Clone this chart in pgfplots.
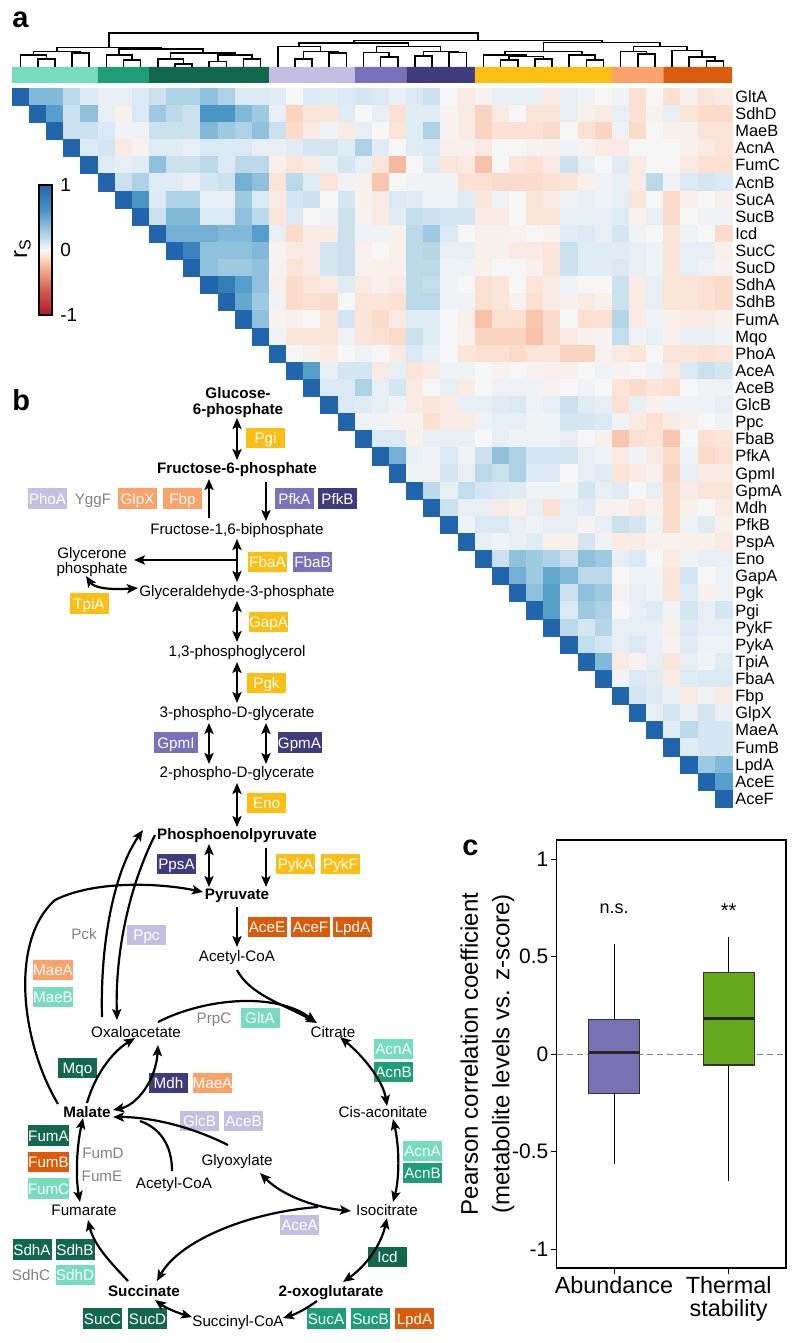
\documentclass[border=0pt]{standalone}
\usepackage{fontspec}
\setmainfont{Liberation Sans}
\usepackage{pgfplots}
\pgfplotsset{compat=1.18}
\usepgfplotslibrary{statistics}
\usetikzlibrary{arrows.meta}

\definecolor{lteal}{RGB}{118,220,190}
\definecolor{mteal}{RGB}{29,158,118}
\definecolor{dgreen}{RGB}{17,104,76}
\definecolor{lav}{RGB}{196,191,226}
\definecolor{mpur}{RGB}{121,113,185}
\definecolor{dpur}{RGB}{64,59,125}
\definecolor{yel}{RGB}{253,190,20}
\definecolor{lor}{RGB}{250,162,106}
\definecolor{dor}{RGB}{219,91,11}
\definecolor{bpur}{RGB}{120,113,180}
\definecolor{bgrn}{RGB}{101,168,30}
\definecolor{gtxt}{RGB}{128,128,128}

\pgfplotsset{colormap={rdbu}{rgb255(0pt)=(178,24,43) rgb255(40pt)=(214,96,77) rgb255(70pt)=(245,172,140) rgb255(90pt)=(252,225,210) rgb255(100pt)=(246,246,246) rgb255(110pt)=(218,233,243) rgb255(130pt)=(158,202,225) rgb255(160pt)=(72,150,197) rgb255(200pt)=(33,102,172)}}
\pgfplotsset{hm/.style={only marks, scatter, mark=square*, mark size=4.29pt, point meta=explicit, mark options={line width=0.15pt}, scatter/use mapped color={draw=mapped color, fill=mapped color}}}

\tikzset{
 ar/.style={line width=1.1pt, -{Stealth[length=5.5pt,width=4.6pt,inset=1.2pt]}},
 dar/.style={line width=1.1pt, {Stealth[length=5.5pt,width=4.6pt,inset=1.2pt]}-{Stealth[length=5.5pt,width=4.6pt,inset=1.2pt]}},
 ln/.style={line width=1.1pt}}

\newcommand\hrow[2]{\addplot[hm] table[row sep=\\, header=false, x expr={20.571+17.143*(\coordindex+#1)}, y expr={96.56+17.12*#1}, meta index=0] {#2};}
\newcommand\dl[5]{\addplot[black, line width=0.8pt] coordinates {(#1,#2) (#1,#5) (#3,#5) (#3,#4)};}
\newcommand\strip[3]{\addplot[fill=#3, draw=none] coordinates {(#1,67) (#2,67) (#2,83) (#1,83) (#1,67)};}
\newcommand\hl[2]{\node[anchor=west, font=\fontsize{8.2}{9}\selectfont, inner sep=0pt, text height=5.9pt, text depth=0pt] at (axis cs:735,{96.56+17.12*#1}) {#2};}
\newcommand\enz[5][19.5pt]{\node[fill=#4, text=white, minimum width=#1, minimum height=10.25pt, inner sep=0pt, text height=5.5pt, text depth=0pt, font=\fontsize{7.6}{9}\selectfont] at (axis cs:#2,#3) {#5};}
\newcommand\met[3]{\node[font=\fontsize{7.6}{9}\selectfont, inner sep=0pt, text height=5.5pt, text depth=0pt] at (axis cs:#1,#2) {#3};}
\newcommand\metb[3]{\node[font=\fontsize{7.6}{9}\selectfont\bfseries, inner sep=0pt, text height=5.5pt, text depth=0pt] at (axis cs:#1,#2) {#3};}
\newcommand\gry[3]{\node[font=\fontsize{7.6}{9}\selectfont, text=gtxt, inner sep=0pt, text height=5.5pt, text depth=0pt] at (axis cs:#1,#2) {#3};}

\begin{document}
\begin{tikzpicture}
\useasboundingbox (0,0) rectangle (400pt,671.5pt);
\begin{axis}[at={(0pt,0pt)}, anchor=south west, scale only axis, width=400pt, height=671.5pt,
  xmin=0, xmax=800, ymin=0, ymax=1343, y dir=reverse, hide axis, clip=false,
  colormap name=rdbu, point meta min=-1, point meta max=1]
% colour strip
\strip{12}{97.7}{lteal}
\strip{97.7}{149.1}{mteal}
\strip{149.1}{269.1}{dgreen}
\strip{269.1}{354.9}{lav}
\strip{354.9}{406.3}{mpur}
\strip{406.3}{474.9}{dpur}
\strip{474.9}{612.0}{yel}
\strip{612.0}{663.4}{lor}
\strip{663.4}{732.0}{dor}
% dendrogram
\dl{37.7}{66.7}{54.9}{66.7}{59.3}
\dl{20.6}{66.7}{46.3}{59.3}{55}
\dl{72.0}{66.7}{89.1}{66.7}{53.3}
\dl{33.4}{55}{80.6}{53.3}{51.7}
\dl{123.4}{66.7}{140.6}{66.7}{60}
\dl{106.3}{66.7}{132}{60}{55}
\dl{174.9}{66.7}{192.0}{66.7}{64.3}
\dl{157.7}{66.7}{183.4}{64.3}{59.3}
\dl{209.1}{66.7}{226.3}{66.7}{61.7}
\dl{243.4}{66.7}{260.6}{66.7}{59.3}
\dl{217.7}{61.7}{252}{59.3}{55}
\dl{170.6}{59.3}{234.9}{55}{53.3}
\dl{119.2}{55}{202.7}{53.3}{49.3}
\dl{57.0}{51.7}{161}{49.3}{47.7}
\dl{294.9}{66.7}{312.0}{66.7}{59.3}
\dl{329.1}{66.7}{346.3}{66.7}{53.3}
\dl{303.4}{59.3}{337.7}{53.3}{51.7}
\dl{277.7}{66.7}{320.6}{51.7}{46.7}
\dl{380.6}{66.7}{397.7}{66.7}{57.3}
\dl{363.4}{66.7}{389.1}{57.3}{52.7}
\dl{414.9}{66.7}{432.0}{66.7}{56}
\dl{449.1}{66.7}{466.3}{66.7}{52.7}
\dl{423.4}{56}{457.7}{52.7}{51.7}
\dl{376.3}{52.7}{440.6}{51.7}{46.7}
\dl{299.1}{46.7}{408.4}{46.7}{43.3}
\dl{500.6}{66.7}{517.7}{66.7}{60}
\dl{534.9}{66.7}{552.0}{66.7}{59.3}
\dl{509.1}{60}{543.4}{59.3}{56.7}
\dl{483.4}{66.7}{526.3}{56.7}{55}
\dl{586.3}{66.7}{603.4}{66.7}{60}
\dl{569.1}{66.7}{594.9}{60}{55}
\dl{504.9}{55}{582}{55}{51.7}
\dl{637.7}{66.7}{654.9}{66.7}{54}
\dl{620.6}{66.7}{646.3}{54}{51.7}
\dl{706.3}{66.7}{723.4}{66.7}{61}
\dl{689.1}{66.7}{714.9}{61}{57.3}
\dl{672.0}{66.7}{702}{57.3}{50.7}
\dl{633.4}{51.7}{687}{50.7}{46.7}
\dl{543.4}{51.7}{660.2}{46.7}{42.7}
\dl{353.8}{43.3}{601.8}{42.7}{40.7}
\dl{109}{47.7}{477.8}{40.7}{33.3}
% heatmap rows (upper triangle, columns r..41)
\hrow{0}{1\\0.4\\0.4\\0.2\\0.1\\0.05\\0.05\\0.1\\0.15\\0.25\\0.25\\0.35\\0.25\\0.1\\0.1\\0.08\\0\\0.1\\0.08\\0.1\\0.12\\0.1\\0.05\\0.1\\0.15\\0\\-0.05\\-0.02\\0.05\\0.05\\0.05\\-0.05\\0.05\\0.02\\0\\0.02\\-0.1\\0\\-0.1\\-0.03\\-0.08\\-0.05\\}
\hrow{1}{1\\0.55\\0.15\\0.35\\0.05\\-0.03\\0.1\\0.3\\0.2\\0.15\\0.6\\0.6\\0.4\\0.3\\0.05\\-0.15\\-0.08\\-0.08\\0.08\\0\\0.05\\-0.1\\0.08\\0.08\\-0.02\\-0.05\\-0.15\\-0.05\\0\\-0.08\\-0.08\\0.05\\-0.03\\-0.05\\0.05\\-0.1\\-0.02\\0.05\\-0.08\\-0.12\\-0.12\\}
\hrow{2}{1\\0.15\\0.15\\0.1\\0.02\\0.03\\0.15\\0.15\\0.15\\0.4\\0.3\\0.25\\0.35\\0.15\\-0.12\\-0.05\\0.03\\-0.05\\0.05\\0\\-0.08\\0.08\\0.25\\-0.02\\-0.05\\-0.15\\-0.1\\-0.1\\-0.1\\-0.12\\0\\-0.1\\-0.15\\0.03\\-0.12\\0\\-0.03\\-0.03\\-0.08\\-0.08\\}
\hrow{3}{1\\0.1\\0.12\\-0.05\\-0.02\\0.08\\0.08\\0.05\\0.1\\0.1\\0.1\\0.05\\0.05\\0.08\\0.12\\0.12\\0.08\\0.25\\0.08\\0\\0.08\\0.1\\-0.03\\-0.03\\-0.05\\0\\0\\-0.02\\-0.03\\0.02\\-0.02\\-0.05\\-0.05\\0\\0\\0\\-0.03\\-0.05\\-0.08\\}
\hrow{4}{1\\0.08\\0.05\\0.08\\0.35\\0.15\\0.15\\0.2\\0.1\\0.2\\0.2\\-0.03\\-0.08\\-0.05\\0.05\\0.12\\0.05\\-0.08\\-0.25\\0\\0.08\\-0.08\\-0.05\\-0.22\\0\\-0.08\\-0.1\\-0.05\\0.15\\0.05\\0\\0.08\\-0.05\\0\\0\\-0.05\\-0.1\\-0.1\\}
\hrow{5}{1\\0.15\\0.25\\0.08\\0.08\\0.05\\0.12\\0.15\\0.45\\0.35\\-0.08\\0.2\\0.08\\-0.08\\0.03\\-0.03\\-0.2\\0\\0.02\\0.02\\0.02\\-0.1\\-0.1\\-0.12\\-0.12\\-0.12\\-0.1\\-0.08\\-0.03\\0.02\\0.05\\-0.05\\0.2\\0.03\\0.1\\0.12\\0.1\\}
\hrow{6}{1\\0.6\\0.1\\0.25\\0.25\\0.05\\0.05\\0.3\\0.1\\-0.05\\0.12\\0.15\\0\\0.12\\-0.03\\-0.05\\0.1\\0.08\\0.03\\0.03\\0.08\\-0.08\\0.02\\0\\-0.08\\-0.05\\0.02\\0.05\\0.02\\0.05\\-0.08\\0\\-0.12\\-0.03\\0\\-0.03\\}
\hrow{7}{1\\0.15\\0.4\\0.4\\0.1\\0.1\\0.35\\0.2\\-0.08\\0.1\\0\\0.02\\0.15\\-0.02\\-0.05\\0.08\\0.18\\0.15\\0.12\\0.12\\-0.05\\-0.05\\0\\-0.08\\-0.08\\0.05\\0.05\\0.05\\0.08\\-0.02\\0.05\\-0.12\\0\\0.02\\0.02\\}
\hrow{8}{1\\0.45\\0.45\\0.45\\0.4\\0.4\\0.55\\0.05\\-0.12\\-0.05\\-0.05\\0.15\\0.02\\0.02\\-0.03\\0.2\\0.3\\0.1\\0\\-0.03\\-0.03\\-0.02\\0\\-0.02\\0.08\\0.1\\0.05\\0.12\\0.02\\0\\-0.08\\0.02\\0\\-0.12\\}
\hrow{9}{1\\0.75\\0.35\\0.35\\0.35\\0.4\\-0.02\\-0.05\\-0.05\\0.12\\0.15\\-0.02\\0\\-0.03\\0.2\\0.22\\0.05\\0.05\\-0.03\\-0.03\\-0.05\\-0.05\\-0.08\\0.15\\0.08\\0.08\\0.08\\0.05\\0.03\\-0.08\\0.05\\0.05\\-0.03\\}
\hrow{10}{1\\0.35\\0.3\\0.3\\0.35\\-0.02\\-0.08\\-0.05\\0.12\\0.15\\-0.02\\-0.03\\-0.03\\0.2\\0.2\\0.02\\0.03\\-0.03\\0\\0\\-0.03\\-0.08\\0.15\\0.08\\0.08\\0.1\\0.05\\0.03\\-0.08\\0.05\\0.03\\-0.02\\}
\hrow{11}{1\\0.8\\0.55\\0.35\\-0.03\\-0.12\\-0.08\\-0.05\\0.08\\-0.05\\-0.03\\-0.05\\0.2\\0.18\\0.02\\0\\-0.1\\-0.08\\0\\-0.08\\-0.05\\0.02\\0\\0\\0.15\\-0.05\\0.05\\-0.08\\-0.08\\-0.1\\-0.12\\}
\hrow{12}{1\\0.5\\0.3\\0.02\\-0.12\\-0.1\\-0.12\\0\\-0.08\\-0.08\\-0.1\\0.2\\0.2\\0.02\\0.02\\-0.1\\-0.08\\-0.02\\-0.1\\-0.05\\-0.03\\-0.05\\-0.03\\0.15\\-0.05\\0.05\\-0.08\\-0.08\\-0.1\\-0.12\\}
\hrow{13}{1\\0.35\\-0.02\\-0.03\\0\\-0.08\\0.12\\-0.08\\-0.12\\-0.05\\0.08\\0.08\\0\\-0.03\\-0.22\\-0.1\\-0.1\\-0.2\\-0.12\\0\\-0.1\\-0.1\\0.22\\-0.05\\0.03\\-0.03\\-0.05\\-0.05\\-0.03\\}
\hrow{14}{1\\0.02\\-0.08\\-0.08\\-0.08\\0.03\\-0.08\\-0.1\\-0.12\\0.15\\0.08\\0\\-0.02\\-0.15\\-0.15\\-0.15\\-0.22\\-0.12\\-0.05\\-0.03\\-0.02\\0.18\\0.02\\0.05\\-0.03\\0.05\\0.05\\0.02\\}
\hrow{15}{1\\0\\-0.03\\-0.05\\0\\0.02\\0\\-0.05\\0.1\\0.05\\0\\-0.08\\-0.1\\-0.1\\-0.12\\-0.08\\-0.08\\-0.15\\-0.15\\-0.02\\-0.05\\-0.08\\0\\-0.08\\-0.08\\-0.1\\-0.08\\}
\hrow{16}{1\\0.55\\0.05\\0.12\\0.12\\-0.05\\0.05\\-0.08\\-0.05\\0.02\\0.03\\0\\-0.02\\0\\-0.02\\-0.03\\-0.03\\0\\0.02\\-0.02\\0\\0.02\\-0.05\\0.1\\0.15\\0.12\\}
\hrow{17}{1\\0.1\\0.1\\0.25\\0.05\\0.12\\-0.05\\0\\0.05\\-0.05\\0\\0.03\\0.03\\0.02\\-0.02\\0\\0.02\\0\\-0.08\\-0.12\\-0.08\\-0.1\\0\\0.02\\0.03\\}
\hrow{18}{1\\0.1\\0.08\\0.05\\0.02\\-0.05\\-0.08\\-0.05\\0.05\\0.05\\0.08\\0.1\\0.03\\0.05\\0.15\\0.08\\0.05\\-0.1\\0.05\\-0.03\\0.02\\0.02\\0.03\\0.05\\}
\hrow{19}{1\\0.02\\0.02\\-0.02\\-0.02\\-0.1\\-0.05\\-0.05\\0.03\\0.05\\0.05\\0.02\\0.02\\0.12\\0.12\\0.1\\0.02\\-0.05\\-0.1\\-0.05\\-0.03\\0\\0.02\\}
\hrow{20}{1\\0.1\\0.1\\-0.03\\0.05\\0.05\\0.05\\0\\0.05\\0.03\\0.02\\0.02\\0.05\\0\\-0.03\\-0.2\\-0.1\\-0.08\\-0.2\\0\\-0.1\\-0.08\\}
\hrow{21}{1\\0.45\\0.05\\0.02\\0.1\\0.02\\0.15\\0.35\\0.25\\0.12\\0.12\\0.12\\0.05\\0.02\\-0.05\\0.02\\-0.05\\-0.12\\0.02\\-0.12\\-0.1\\}
\hrow{22}{1\\0.02\\0.03\\0.12\\0.05\\0.2\\0.15\\0.25\\0.1\\0.1\\0\\0.05\\0.08\\-0.08\\-0.05\\-0.03\\-0.15\\0.05\\-0.05\\-0.05\\}
\hrow{23}{1\\0.2\\0.05\\0.18\\0.12\\0.1\\0.08\\0.02\\0.02\\0.02\\0.12\\0.05\\0.08\\0\\0.05\\-0.12\\-0.05\\-0.08\\-0.08\\}
\hrow{24}{1\\0.15\\0.05\\0.05\\-0.05\\-0.03\\0.05\\-0.1\\0.05\\0.08\\-0.02\\-0.02\\-0.05\\-0.02\\-0.12\\-0.03\\0\\-0.05\\}
\hrow{25}{1\\0.02\\0.1\\0.1\\0.05\\0.03\\0.05\\0.05\\-0.02\\0.05\\0.15\\0.12\\0.03\\-0.12\\0.03\\0.08\\-0.03\\}
\hrow{26}{1\\0.05\\0.02\\0.05\\0.08\\-0.03\\-0.03\\0.12\\0.03\\-0.05\\-0.05\\-0.02\\-0.02\\-0.03\\-0.03\\-0.05\\}
\hrow{27}{1\\0.15\\0.35\\0.3\\0.25\\0.15\\0.35\\0.3\\0.05\\0.1\\0\\-0.05\\0.02\\0.05\\0.05\\}
\hrow{28}{1\\0.45\\0.3\\0.5\\0.4\\0.2\\0.2\\0\\0.02\\0.02\\-0.08\\0.12\\0\\0.03\\}
\hrow{29}{1\\0.35\\0.55\\0.15\\0.35\\0.3\\-0.02\\0.05\\0.03\\-0.08\\0.08\\-0.03\\0.03\\}
\hrow{30}{1\\0.55\\0.1\\0.3\\0.25\\0\\0.05\\0.08\\0.02\\0.12\\0.05\\0.12\\}
\hrow{31}{1\\0.2\\0.12\\0.22\\0.05\\0.05\\0.05\\-0.03\\0.1\\0.05\\0.05\\}
\hrow{32}{1\\0.18\\0.12\\0.05\\0.1\\0.05\\-0.02\\0.08\\0.03\\0.03\\}
\hrow{33}{1\\0.4\\-0.05\\-0.02\\0.05\\-0.08\\0.05\\0.02\\0.08\\}
\hrow{34}{1\\0.02\\0.1\\0.08\\-0.05\\0.08\\0.1\\0.1\\}
\hrow{35}{1\\0.12\\0.1\\0.05\\-0.05\\0.03\\-0.05\\}
\hrow{36}{1\\0.05\\0.12\\0.05\\0.12\\0.05\\}
\hrow{37}{1\\0.08\\0.2\\0.12\\0.12\\}
\hrow{38}{1\\0.08\\0.12\\0.12\\}
\hrow{39}{1\\0.3\\0.4\\}
\hrow{40}{1\\0.55\\}
\hrow{41}{1\\}
% row labels
\hl{0}{GltA}\hl{1}{SdhD}\hl{2}{MaeB}\hl{3}{AcnA}\hl{4}{FumC}\hl{5}{AcnB}\hl{6}{SucA}
\hl{7}{SucB}\hl{8}{Icd}\hl{9}{SucC}\hl{10}{SucD}\hl{11}{SdhA}\hl{12}{SdhB}\hl{13}{FumA}
\hl{14}{Mqo}\hl{15}{PhoA}\hl{16}{AceA}\hl{17}{AceB}\hl{18}{GlcB}\hl{19}{Ppc}\hl{20}{FbaB}
\hl{21}{PfkA}\hl{22}{GpmI}\hl{23}{GpmA}\hl{24}{Mdh}\hl{25}{PfkB}\hl{26}{PspA}\hl{27}{Eno}
\hl{28}{GapA}\hl{29}{Pgk}\hl{30}{Pgi}\hl{31}{PykF}\hl{32}{PykA}\hl{33}{TpiA}\hl{34}{FbaA}
\hl{35}{Fbp}\hl{36}{GlpX}\hl{37}{MaeA}\hl{38}{FumB}\hl{39}{LpdA}\hl{40}{AceE}\hl{41}{AceF}
% panel letters and colourbar label
\node[anchor=base west, inner sep=0pt, font=\fontsize{14.5}{15}\selectfont\bfseries] at (axis cs:12,28) {a};
\node[anchor=base west, inner sep=0pt, font=\fontsize{14.5}{15}\selectfont\bfseries] at (axis cs:12,410) {b};
\node[anchor=base west, inner sep=0pt, font=\fontsize{14.5}{15}\selectfont\bfseries] at (axis cs:462,855) {c};
\node[rotate=90, inner sep=0pt, font=\fontsize{12}{13}\selectfont] at (axis cs:22.5,249) {r\textsubscript{S}};
% ---------- panel b ----------
\metb{238}{393}{Glucose-}
\metb{238}{409}{6-phosphate}
\metb{237}{468}{Fructose-6-phosphate}
\met{237}{529}{Fructose-1,6-biphosphate}
\met{92}{553}{Glycerone}
\met{92}{568}{phosphate}
\met{237}{591}{Glyceraldehyde-3-phosphate}
\met{237}{651}{1,3-phosphoglycerol}
\met{237}{712}{3-phospho-D-glycerate}
\met{237}{772}{2-phospho-D-glycerate}
\metb{237}{834}{Phosphoenolpyruvate}
\metb{237}{894}{Pyruvate}
\met{237}{956}{Acetyl-CoA}
\met{136}{1032}{Oxaloacetate}
\met{333}{1032}{Citrate}
\met{383}{1112}{Cis-aconitate}
\metb{87}{1112}{Malate}
\met{237}{1160}{Glyoxylate}
\met{174}{1183}{Acetyl-CoA}
\met{387}{1210}{Isocitrate}
\met{84}{1210}{Fumarate}
\metb{144}{1291}{Succinate}
\metb{331}{1291}{2-oxoglutarate}
\met{238}{1321}{Succinyl-CoA}
\gry{93}{499}{YggF}
\gry{84}{934}{Pck}
\gry{214}{1018}{PrpC}
\gry{103}{1153}{FumD}
\gry{102}{1176}{FumE}
\gry{31}{1275}{SdhC}
% enzymes
\enz{265.5}{438}{yel}{Pgi}
\enz{47.5}{498.5}{lav}{PhoA}
\enz{137.5}{498.5}{lor}{GlpX}
\enz{182.5}{498.5}{lor}{Fbp}
\enz{294.5}{498.5}{mpur}{PfkA}
\enz{337.5}{498.5}{dpur}{PfkB}
\enz{267.5}{562}{yel}{FbaA}
\enz{312.5}{562}{mpur}{FbaB}
\enz{89}{603.5}{yel}{TpiA}
\enz{268.5}{622}{yel}{GapA}
\enz{266.5}{683}{yel}{Pgk}
\enz[22pt]{176}{742.5}{mpur}{GpmI}
\enz[22pt]{299.5}{742.5}{dpur}{GpmA}
\enz{266.5}{803}{yel}{Eno}
\enz{176.5}{864}{dpur}{PpsA}
\enz{295.5}{864}{yel}{PykA}
\enz{340.5}{864}{yel}{PykF}
\enz{267}{927}{dor}{AceE}
\enz{310.5}{927}{dor}{AceF}
\enz{352.5}{927}{dor}{LpdA}
\enz{146.5}{935}{lav}{Ppc}
\enz{53}{970}{lor}{MaeA}
\enz{53}{997}{lteal}{MaeB}
\enz{260}{1018}{lteal}{GltA}
\enz{393.5}{1049}{lteal}{AcnA}
\enz{393.5}{1072}{mteal}{AcnB}
\enz{77.5}{1068}{dgreen}{Mqo}
\enz{168.5}{1083}{dpur}{Mdh}
\enz{212.5}{1083}{lor}{MaeA}
\enz{199.5}{1121}{lav}{GlcB}
\enz{243.5}{1121}{lav}{AceB}
\enz{48.5}{1135.5}{dgreen}{FumA}
\enz{48.5}{1162}{dor}{FumB}
\enz{48.5}{1188.5}{lteal}{FumC}
\enz{422.5}{1151}{lteal}{AcnA}
\enz{422.5}{1173}{mteal}{AcnB}
\enz{299.5}{1225}{lav}{AceA}
\enz{32}{1249.5}{dgreen}{SdhA}
\enz{75}{1249.5}{dgreen}{SdhB}
\enz{75}{1275}{lteal}{SdhD}
\enz{387.5}{1257}{dgreen}{Icd}
\enz{102.5}{1318.5}{dgreen}{SucC}
\enz{147.5}{1318.5}{dgreen}{SucD}
\enz{326}{1318.5}{mteal}{SucA}
\enz{370.5}{1318.5}{mteal}{SucB}
\enz{414.5}{1318.5}{dor}{LpdA}
% arrows
\draw[dar] (237,418) -- (237,460);
\draw[ar] (209,518) -- (209,479);
\draw[ar] (266,482) -- (266,521);
\draw[dar] (237,539) -- (237,582);
\draw[ar] (237,560) -- (134,560);
\draw[dar] (86,576) .. controls (94,588) and (110,590) .. (138,588);
\draw[dar] (237,601) -- (237,642);
\draw[dar] (237,662) -- (237,703);
\draw[dar] (209,723) -- (209,764);
\draw[dar] (266,723) -- (266,764);
\draw[dar] (237,783) -- (237,827);
\draw[dar] (209,844) -- (209,887);
\draw[ar] (266,848) -- (266,887);
\draw[ar] (237,907) -- (237,947);
\draw[ar] (237,970) .. controls (250,995) and (285,1005) .. (317,1023);
\draw[ar] (158,1022) .. controls (205,998) and (275,992) .. (316,1022);
\draw[ar] (58,1104) .. controls (20,1040) and (10,940) .. (55,900) .. controls (95,880) and (160,883) .. (203,892);
\draw[ar] (102,1017) .. controls (100,940) and (115,870) .. (143,830);
\draw[ar] (155,835) .. controls (130,885) and (115,950) .. (117,1020);
\draw[dar] (340,1037) .. controls (362,1055) and (383,1080) .. (387,1106);
\draw[dar] (393,1119) .. controls (400,1150) and (399,1180) .. (393,1202);
\draw[ar] (87,1103) .. controls (95,1075) and (112,1052) .. (135,1038);
\draw[dar] (158,1045) .. controls (156,1080) and (137,1105) .. (113,1110);
\draw[ar] (228,1145) .. controls (190,1126) and (150,1117) .. (113,1117);
\draw[ln] (172,1171) .. controls (172,1145) and (160,1128) .. (140,1121);
\draw[dar] (83,1118) .. controls (76,1150) and (76,1180) .. (80,1202);
\draw[dar] (260,1173) .. controls (285,1198) and (320,1208) .. (351,1211);
\draw[ar] (318,1207) .. controls (250,1212) and (180,1240) .. (157,1281);
\draw[dar] (387,1218) .. controls (381,1245) and (366,1266) .. (343,1282);
\draw[ar] (128,1281) .. controls (110,1262) and (94,1245) .. (88,1220);
\draw[ar] (317,1301) .. controls (306,1309) and (296,1314) .. (283,1318);
\draw[dar] (155,1300) .. controls (166,1308) and (178,1313) .. (192,1317);
\end{axis}

% colour bar
\begin{axis}[at={(19.5pt,579pt)}, anchor=north west, scale only axis, width=0pt, height=0pt, hide axis,
  colormap name=rdbu, point meta min=-1, point meta max=1, colorbar, colorbar shift/.style={},
  colorbar style={at={(parent axis.north west)}, anchor=north west, width=6.5pt, height=65pt,
    ytick={-1,0,1}, yticklabels={-1,0,1}, major tick length=0pt,
    yticklabel style={font=\fontsize{9.5}{11}\selectfont, inner sep=0pt, xshift=4pt},
    axis line style={line width=0.8pt}}]
\addplot[draw=none] coordinates {(0,0)};
\end{axis}

% panel c
\begin{axis}[at={(278.35pt,37.5pt)}, anchor=south west, scale only axis, width=114.65pt, height=214pt,
  xmin=0.5, xmax=2.5, ymin=-1.097, ymax=1.099, axis line style={line width=0.7pt}, clip=false,
  xtick={1,2}, xticklabels={Abundance,{Thermal\\stability}},
  ytick={-1,-0.5,0,0.5,1}, yticklabels={-1,-0.5,0,0.5,1},
  tick align=outside, tick pos=left, major tick length=3pt, tick style={black, line width=0.5pt},
  xticklabel style={align=center, font=\fontsize{11.7}{11.7}\selectfont, inner sep=1pt},
  yticklabel style={font=\fontsize{10.5}{12}\selectfont, inner sep=1pt},
  ylabel={Pearson correlation coefficient\\(metabolite levels vs. z-score)},
  ylabel style={align=center, font=\fontsize{12}{15.8}\selectfont, at={(axis description cs:-0.302,0.5)}, anchor=center},
  boxplot/draw direction=y]
\addplot[gray, line width=0.6pt, dash pattern=on 3pt off 2pt] coordinates {(0.5,0) (2.5,0)};
\addplot[fill=bpur, draw=black!80, line width=0.6pt,
  boxplot/every median/.style={line width=1.5pt, draw=black!85},
  boxplot/every whisker/.style={line width=0.5pt, draw=black},
  boxplot prepared={draw position=1, median=0.01, upper quartile=0.18, lower quartile=-0.2,
    upper whisker=0.565, lower whisker=-0.562, box extend=0.445, whisker extend=0}] coordinates {};
\addplot[fill=bgrn, draw=black!80, line width=0.6pt,
  boxplot/every median/.style={line width=1.5pt, draw=black!85},
  boxplot/every whisker/.style={line width=0.5pt, draw=black},
  boxplot prepared={draw position=2, median=0.183, upper quartile=0.42, lower quartile=-0.055,
    upper whisker=0.6, lower whisker=-0.65, box extend=0.445, whisker extend=0}] coordinates {};
\node[font=\fontsize{9}{10}\selectfont] at (axis cs:1,0.745) {n.s.};
\node[font=\fontsize{10}{10}\selectfont] at (axis cs:2,0.735) {**};
\end{axis}
\end{tikzpicture}
\end{document}
